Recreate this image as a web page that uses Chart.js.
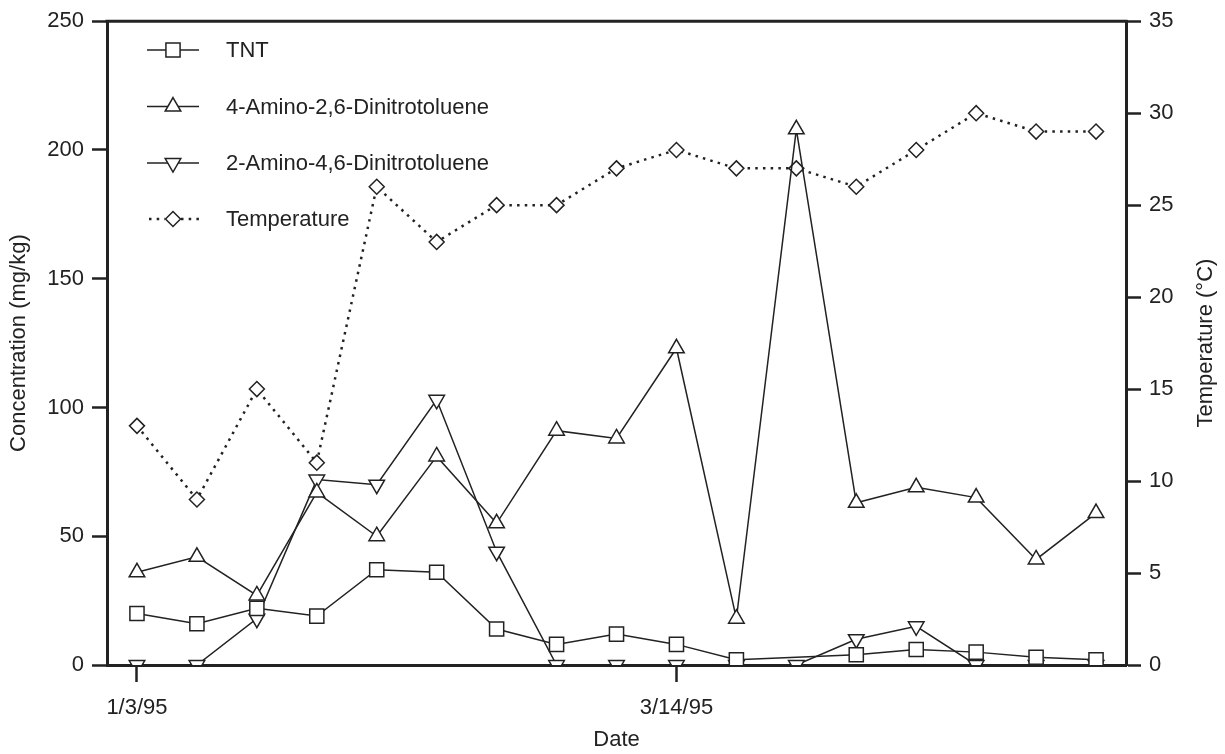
<!DOCTYPE html>
<html>
<head>
<meta charset="utf-8">
<style>
  html, body { margin: 0; padding: 0; background: #fff; }
  canvas { display: block; }
</style>
<script src="https://cdn.jsdelivr.net/npm/chart.js@4/dist/chart.umd.min.js"></script>
</head>
<body>
<canvas id="chart" width="1225" height="754"></canvas>
<script>
// Sampling events (one category per sample); only two carry a date label
const sampleDates = ['1/3/95', '', '', '', '', '', '', '', '', '3/14/95', '', '', '', '', '', '', ''];

// Concentrations in mg/kg (left axis); null = no measurement
const tnt = [20, 16, 22, 19, 37, 36, 14, 8, 12, 8, 2, null, 4, 6, 5, 3, 2];
const amino4Dnt = [36, 42, 27, 67, 50, 81, 55, 91, 88, 123, 18, 208, 63, 69, 65, 41, 59];
const amino2Dnt = [0, 0, 18, 72, 70, 103, 44, 0, 0, 0, 0, 0, 10, 15, 0, 0, 0];

// Temperature in °C (right axis)
const temperature = [13, 9, 15, 11, 26, 23, 25, 25, 27, 28, 27, 27, 26, 28, 30, 29, 29];

const seriesNames = ['TNT', '4-Amino-2,6-Dinitrotoluene', '2-Amino-4,6-Dinitrotoluene', 'Temperature'];

const INK = '#222';
const FONT = "'Liberation Sans', Arial, Helvetica, sans-serif";
const FONT_SIZE = 22;
const DOT_DASH = [2.5, 5.2];

function markerPath(ctx, style, x, y, r, rot) {
  ctx.beginPath();
  if (style === 'rect') {
    const s = Math.SQRT1_2 * r;
    ctx.rect(x - s, y - s, 2 * s, 2 * s);
  } else if (style === 'rectRot') {
    ctx.moveTo(x - r, y); ctx.lineTo(x, y - r); ctx.lineTo(x + r, y); ctx.lineTo(x, y + r);
    ctx.closePath();
  } else if (style === 'triangle') {
    let a = (rot || 0) * Math.PI / 180;
    ctx.moveTo(x + Math.sin(a) * r, y - Math.cos(a) * r);
    for (let k = 0; k < 2; k++) {
      a += 2 * Math.PI / 3;
      ctx.lineTo(x + Math.sin(a) * r, y - Math.cos(a) * r);
    }
    ctx.closePath();
  }
}

// Legend in the upper-left corner of the plot, plus frame and right-hand title
const decorations = {
  id: 'decorations',
  afterDatasetsDraw(chart) {
    const ctx = chart.ctx;
    const area = chart.chartArea;
    ctx.save();

    // top edge of the frame
    ctx.strokeStyle = INK;
    ctx.lineWidth = 3;
    ctx.beginPath();
    ctx.moveTo(area.left - 1.5, area.top);
    ctx.lineTo(area.right + 1.5, area.top);
    ctx.stroke();

    // legend
    const x0 = area.left + 40, x1 = area.left + 92, xm = (x0 + x1) / 2;
    const rowY = [50, 106.5, 163, 219];
    chart.data.datasets.forEach((ds, i) => {
      const y = rowY[i];
      ctx.strokeStyle = INK;
      ctx.lineWidth = ds.borderDash ? ds.borderWidth : 1.5;
      ctx.setLineDash(ds.borderDash || []);
      ctx.beginPath();
      if (ds.borderDash) {
        ctx.moveTo(x0 + 2, y); ctx.lineTo(xm - 8, y);
        ctx.moveTo(xm + 8, y); ctx.lineTo(x1, y);
      } else {
        ctx.moveTo(x0, y); ctx.lineTo(x1, y);
      }
      ctx.stroke();
      ctx.setLineDash([]);
      markerPath(ctx, ds.pointStyle, xm, y, ds.pointRadius, ds.pointRotation);
      ctx.fillStyle = '#fff';
      ctx.fill();
      ctx.lineWidth = 1.5;
      ctx.strokeStyle = INK;
      ctx.stroke();

      ctx.fillStyle = INK;
      ctx.font = FONT_SIZE + 'px ' + FONT;
      ctx.textAlign = 'left';
      ctx.textBaseline = 'middle';
      ctx.fillText(ds.label, area.left + 119, y + 1);
    });

    // right axis title, reading bottom to top
    ctx.translate(1206, (area.top + area.bottom) / 2);
    ctx.rotate(-Math.PI / 2);
    ctx.textAlign = 'center';
    ctx.textBaseline = 'middle';
    ctx.fillStyle = INK;
    ctx.font = FONT_SIZE + 'px ' + FONT;
    ctx.fillText('Temperature (°C)', 0, 0);
    ctx.restore();
  }
};

function lineSet(label, data, style, radius, extra) {
  return Object.assign({
    label: label,
    data: data,
    yAxisID: 'y',
    borderColor: INK,
    borderWidth: 1.5,
    backgroundColor: '#fff',
    pointStyle: style,
    pointRadius: radius,
    pointHoverRadius: radius,
    pointBackgroundColor: '#fff',
    pointBorderColor: INK,
    pointBorderWidth: 1.5,
    tension: 0,
    fill: false,
    spanGaps: true
  }, extra || {});
}

const tickFont = { family: FONT, size: FONT_SIZE };

new Chart(document.getElementById('chart'), {
  type: 'line',
  data: {
    labels: sampleDates,
    datasets: [
      lineSet(seriesNames[0], tnt, 'rect', 10),
      lineSet(seriesNames[1], amino4Dnt, 'triangle', 9),
      lineSet(seriesNames[2], amino2Dnt, 'triangle', 9, { pointRotation: 180 }),
      lineSet(seriesNames[3], temperature, 'rectRot', 7.5, {
        yAxisID: 'y1', borderDash: DOT_DASH, borderWidth: 2.5, borderCapStyle: 'butt'
      })
    ]
  },
  plugins: [decorations],
  options: {
    responsive: false,
    animation: false,
    devicePixelRatio: 1,
    layout: { autoPadding: false, padding: { top: 17, left: 0, right: 0, bottom: 0 } },
    plugins: {
      legend: { display: false },
      tooltip: { enabled: false }
    },
    scales: {
      x: {
        type: 'category',
        offset: true,
        afterBuildTicks(scale) {
          scale.ticks = scale.ticks.filter(t => sampleDates[t.value] !== '');
        },
        afterFit(scale) { scale.height = 89; },
        grid: { offset: false, drawOnChartArea: false, drawTicks: true, tickLength: 17, tickWidth: 2.5, tickColor: INK },
        border: { display: true, width: 3, color: INK },
        ticks: { autoSkip: false, maxRotation: 0, padding: 13, color: INK, font: tickFont },
        title: { display: true, text: 'Date', color: INK, font: tickFont, padding: { top: 0, bottom: 1 } }
      },
      y: {
        position: 'left',
        min: 0, max: 250,
        afterFit(scale) { scale.width = 107; },
        grid: { drawOnChartArea: false, drawTicks: true, tickLength: 15, tickWidth: 2.5, tickColor: INK },
        border: { display: true, width: 3, color: INK },
        ticks: { stepSize: 50, padding: 8, color: INK, font: tickFont },
        title: { display: true, text: 'Concentration (mg/kg)', color: INK, font: tickFont, padding: { top: 6, bottom: 0 } }
      },
      y1: {
        position: 'right',
        min: 0, max: 35,
        afterFit(scale) { scale.width = 99; },
        grid: { drawOnChartArea: false, drawTicks: true, tickLength: 15, tickWidth: 2.5, tickColor: INK },
        border: { display: true, width: 3, color: INK },
        ticks: { stepSize: 5, padding: 8, color: INK, font: tickFont }
      }
    }
  }
});
</script>
</body>
</html>
